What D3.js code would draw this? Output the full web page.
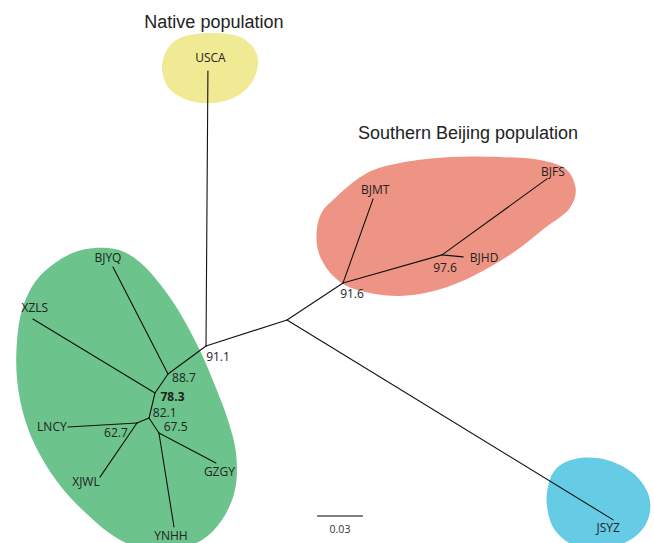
<!DOCTYPE html>
<html>
<head>
<meta charset="utf-8">
<script src="https://cdn.jsdelivr.net/npm/d3@7"></script>
<style>
  html, body { margin: 0; padding: 0; background: #fff; }
  svg { display: block; }
</style>
</head>
<body>
<svg id="chart" width="654" height="543"></svg>
<script>
// ---------- DATA ----------
// Unrooted tree: branch lengths (substitutions/site) and drawing angles (deg)
const branchParents = ["A","A","E","F","F","G","G","E","A","B","B","C","C","D","H","H","D","I","I"];
const branchChildren = ["USCA","E","F","BJMT","G","BJHD","BJFS","JSYZ","B","BJYQ","C","XZLS","D","H","LNCY","XJWL","I","YNHH","GZGY"];
const branchLengths = [0.1794,0.0555,0.0438,0.0582,0.0671,0.0138,0.0845,0.2495,0.0308,0.0785,0.0150,0.0931,0.0168,0.0085,0.0451,0.0427,0.0117,0.0621,0.0420];
const branchAngles = [-89.6,-17.8,-33.5,-70.3,-15.8,5.4,-35.9,31.5,143.6,-117.2,124.4,-148.8,103.5,157.4,176.7,124.4,56.3,80.9,27.8];

// Bootstrap support values at internal nodes
const supportNodes = ["A","F","G","B","C","D","H","I"];
const supportValues = ["91.1","91.6","97.6","88.7","78.3","82.1","62.7","67.5"];

// Leaf (population) names
const leafNames = ["USCA","BJMT","BJHD","BJFS","JSYZ","BJYQ","XZLS","LNCY","XJWL","YNHH","GZGY"];

// Groups and their hand-drawn outlines (tree units relative to node A)
const groupNames = ["Native population","Southern Beijing population"];
const groupColors = ["#f0ea94","#ee9484","#6cc38c","#66cbe4"];
const outlineYellow = [[-0.0287,-0.1819],[-0.0248,-0.1943],[-0.0170,-0.2008],[0.0007,-0.2041],[0.0222,-0.2015],[0.0319,-0.1930],[0.0339,-0.1832],[0.0287,-0.1702],[0.0189,-0.1623],[0.0026,-0.1584],[-0.0137,-0.1610],[-0.0248,-0.1689]];
const outlineRed = [[0.0828,-0.0952],[0.1050,-0.1128],[0.1265,-0.1193],[0.1591,-0.1232],[0.1917,-0.1232],[0.2178,-0.1213],[0.2354,-0.1148],[0.2412,-0.1017],[0.2373,-0.0900],[0.2210,-0.0769],[0.2028,-0.0626],[0.1852,-0.0515],[0.1656,-0.0417],[0.1460,-0.0352],[0.1265,-0.0326],[0.1069,-0.0346],[0.0906,-0.0398],[0.0795,-0.0496],[0.0730,-0.0626],[0.0724,-0.0769],[0.0756,-0.0874]];
const outlineGreen = [[-0.0724,-0.0639],[-0.0593,-0.0632],[-0.0496,-0.0593],[-0.0404,-0.0522],[-0.0300,-0.0404],[-0.0202,-0.0267],[-0.0111,-0.0111],[-0.0020,0.0072],[0.0065,0.0274],[0.0143,0.0482],[0.0196,0.0698],[0.0189,0.0939],[0.0104,0.1134],[-0.0026,0.1265],[-0.0202,0.1330],[-0.0398,0.1330],[-0.0593,0.1245],[-0.0756,0.1115],[-0.0939,0.0926],[-0.1082,0.0711],[-0.1180,0.0482],[-0.1232,0.0222],[-0.1232,-0.0039],[-0.1200,-0.0235],[-0.1115,-0.0417],[-0.0985,-0.0541],[-0.0854,-0.0613]];
const outlineBlue = [[0.2321,0.0769],[0.2438,0.0730],[0.2615,0.0743],[0.2784,0.0828],[0.2882,0.0958],[0.2895,0.1082],[0.2843,0.1200],[0.2699,0.1297],[0.2438,0.1317],[0.2275,0.1200],[0.2223,0.1037],[0.2230,0.0919],[0.2262,0.0828]];

const scaleBarValue = 0.03;

// ---------- LAYOUT (offsets for labels, in px) ----------
const leafLabelOffset = {
  USCA:[2.5,-13], BJMT:[2,-9], BJFS:[6,-7], BJHD:[21,1], JSYZ:[-5,8],
  BJYQ:[-5,-9], XZLS:[2,-11], LNCY:[-16,0], XJWL:[-14,5], GZGY:[3.5,9], YNHH:[-3,9]
};
const supportOffset = {
  A:[12,10.5], F:[9,11], G:[3,13], B:[16,4], C:[17.5,4], D:[15.7,-5.5], H:[-21,10], I:[16.7,-6]
};

// ---------- SCALES ----------
const pxPerUnit = 46 / 0.03;
const x = d3.scaleLinear().domain([0, 1]).range([206, 206 + pxPerUnit]);
const y = d3.scaleLinear().domain([0, 1]).range([346, 346 + pxPerUnit]);

// compute node positions in tree units
const pos = { A: [0, 0] };
branchChildren.forEach((c, i) => {
  const p = pos[branchParents[i]];
  const a = branchAngles[i] * Math.PI / 180;
  pos[c] = [p[0] + branchLengths[i] * Math.cos(a), p[1] + branchLengths[i] * Math.sin(a)];
});

const svg = d3.select("#chart");

// ---------- BLOBS ----------
const blob = d3.line().x(d => x(d[0])).y(d => y(d[1])).curve(d3.curveCatmullRomClosed.alpha(0.5));
const outlines = [outlineYellow, outlineRed, outlineGreen, outlineBlue];
svg.append("g").selectAll("path")
  .data(outlines)
  .join("path")
  .attr("d", d => blob(d))
  .attr("fill", (d, i) => groupColors[i])
  .attr("stroke", "none");

// ---------- BRANCHES ----------
svg.append("g").selectAll("line")
  .data(branchChildren.map((c, i) => ({ p: branchParents[i], c })))
  .join("line")
  .attr("x1", d => x(pos[d.p][0])).attr("y1", d => y(pos[d.p][1]))
  .attr("x2", d => x(pos[d.c][0])).attr("y2", d => y(pos[d.c][1]))
  .attr("stroke", "#111").attr("stroke-width", 1.1).attr("stroke-linecap", "round");

// ---------- LEAF LABELS ----------
svg.append("g").selectAll("text")
  .data(leafNames)
  .join("text")
  .attr("x", d => x(pos[d][0]) + leafLabelOffset[d][0])
  .attr("y", d => y(pos[d][1]) + leafLabelOffset[d][1])
  .attr("dy", "0.36em")
  .attr("text-anchor", "middle")
  .attr("font-family", "'Open Sans', 'Noto Sans', sans-serif")
  .attr("font-size", 12)
  .attr("fill", "#222")
  .text(d => d);

// ---------- SUPPORT VALUES ----------
svg.append("g").selectAll("text")
  .data(supportNodes.map((n, i) => ({ n, v: supportValues[i] })))
  .join("text")
  .attr("x", d => x(pos[d.n][0]) + supportOffset[d.n][0])
  .attr("y", d => y(pos[d.n][1]) + supportOffset[d.n][1])
  .attr("dy", "0.36em")
  .attr("text-anchor", "middle")
  .attr("font-family", "'Open Sans', 'Noto Sans', sans-serif")
  .attr("font-size", 12)
  .attr("font-weight", d => d.v === "78.3" ? "bold" : "normal")
  .attr("fill", "#222")
  .text(d => d.v);

// ---------- GROUP TITLES ----------
svg.append("text")
  .attr("x", x(pos.USCA[0]) + 6).attr("y", 28)
  .attr("text-anchor", "middle")
  .attr("font-family", "'Liberation Sans', Arial, sans-serif")
  .attr("font-size", 18).attr("fill", "#222")
  .text(groupNames[0]);
svg.append("text")
  .attr("x", x(pos.G[0]) + 26).attr("y", 139)
  .attr("text-anchor", "middle")
  .attr("font-family", "'Liberation Sans', Arial, sans-serif")
  .attr("font-size", 18).attr("fill", "#222")
  .text(groupNames[1]);

// ---------- SCALE BAR ----------
const sbX0 = 317, sbY = 516;
svg.append("line")
  .attr("x1", sbX0).attr("x2", sbX0 + (x(scaleBarValue) - x(0)))
  .attr("y1", sbY).attr("y2", sbY)
  .attr("stroke", "#555").attr("stroke-width", 1.5);
svg.append("text")
  .attr("x", sbX0 + (x(scaleBarValue) - x(0)) / 2).attr("y", sbY + 17)
  .attr("text-anchor", "middle")
  .attr("font-family", "'Open Sans', 'Noto Sans', sans-serif")
  .attr("font-size", 10.5).attr("fill", "#333")
  .text(String(scaleBarValue));
</script>
</body>
</html>
